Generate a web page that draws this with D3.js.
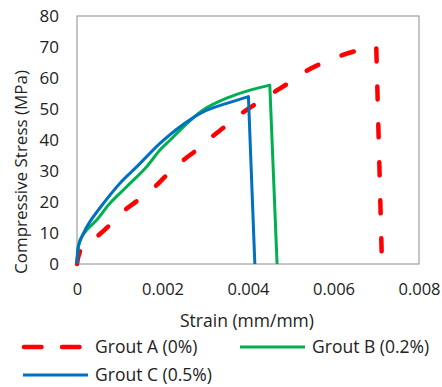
<!DOCTYPE html>
<html>
<head>
<meta charset="utf-8">
<script src="https://cdn.jsdelivr.net/npm/d3@7"></script>
<style>
  body { margin: 0; background: #fff; overflow: hidden; }
  svg { display: block; }
</style>
</head>
<body>
<svg id="chart"></svg>
<script>
// values: [strain, stress]
const groutA = [[0, 0], [0.00011, 5.2], [0.00046, 8.8], [0.00077, 12.6], [0.00112, 17.4], [0.00143, 20.6],
    [0.00182, 24.9], [0.0021, 28.7], [0.00249, 33.5], [0.0028, 36.8], [0.00315, 41], [0.00346, 44.3],
    [0.00385, 48.6], [0.0042, 51.8], [0.00463, 55.6], [0.00494, 58.3], [0.00533, 62], [0.00572, 64.7],
    [0.00615, 67.1], [0.00654, 68.8], [0.007, 70.2], [0.00713, 2]];
const groutB = [[0, 0], [0.00002, 4], [0.00007, 7.7], [0.00023, 11], [0.00046, 14.2], [0.00077, 19.6],
    [0.00116, 24.9], [0.00163, 31.4], [0.00194, 36.8], [0.00218, 40], [0.00241, 43.2], [0.00295, 49.7],
    [0.0035, 53.5], [0.00405, 56.1], [0.00451, 57.7], [0.00468, 0]];
const groutC = [[0, 0], [0.00003, 5.6], [0.00015, 9.9], [0.0003, 13.6], [0.00062, 19.6], [0.001, 26],
    [0.0014, 31.4], [0.00194, 38.9], [0.00241, 44.3], [0.00295, 49.1], [0.0035, 51.8], [0.00401, 54],
    [0.00416, 0]];
const seriesNames = ['Grout A (0%)', 'Grout B (0.2%)', 'Grout C (0.5%)'];
const xTicks = [0, 0.002, 0.004, 0.006, 0.008];
const yTicks = [0, 10, 20, 30, 40, 50, 60, 70, 80];

const font = '"Open Sans", "Noto Sans", sans-serif';
const width = 442, height = 387;
const margin = {top: 16, right: 23, bottom: 123, left: 77};
const innerWidth = width - margin.left - margin.right;
const innerHeight = height - margin.top - margin.bottom;

const svg = d3.select('#chart').attr('width', width).attr('height', height)
    .attr('font-family', font).attr('fill', '#222');
const g = svg.append('g').attr('transform', `translate(${margin.left},${margin.top})`);

const x = d3.scaleLinear().domain([0, 0.008]).range([0, innerWidth]);
const y = d3.scaleLinear().domain([0, 80]).range([innerHeight, 0]);

// plot border
g.append('rect')
    .attr('width', innerWidth).attr('height', innerHeight)
    .attr('fill', 'none').attr('stroke', '#8c8c8c').attr('stroke-width', 1);

const xAxis = g.append('g')
    .attr('transform', `translate(0,${innerHeight})`)
    .call(d3.axisBottom(x).tickValues(xTicks).tickSize(0).tickPadding(19)
        .tickFormat(d => d === 0 ? '0' : d3.format('.3f')(d)));
const yAxis = g.append('g')
    .call(d3.axisLeft(y).tickValues(yTicks).tickSize(0).tickPadding(18));
xAxis.attr('font-size', 16.5);
yAxis.attr('font-size', 17);
[xAxis, yAxis].forEach(a => {
    a.attr('font-family', font);
    a.select('.domain').remove();
    a.selectAll('text').attr('fill', '#222');
});

// smooth rising branch, straight drop after the peak
const rise = d3.line().x(d => x(d[0])).y(d => y(d[1])).curve(d3.curveCatmullRom.alpha(0.5));
const curvePath = data => {
    const up = data.slice(0, data.length - 1);
    const last = data[data.length - 1];
    return rise(up) + `L${x(last[0])},${y(last[1])}`;
};

const styles = [
    {data: groutA, color: '#ff0000', dash: '13,25', legendDash: '17.5,20.5', width: 4.5},
    {data: groutB, color: '#00b050', dash: null, width: 3},
    {data: groutC, color: '#0070c0', dash: null, width: 3}
];

styles.forEach(s => {
    g.append('path')
        .attr('d', curvePath(s.data))
        .attr('fill', 'none')
        .attr('stroke', s.color)
        .attr('stroke-width', s.width)
        .attr('stroke-linejoin', 'round')
        .attr('stroke-linecap', s.dash ? 'round' : 'butt')
        .attr('stroke-dasharray', s.dash);
});

// axis titles
svg.append('text')
    .attr('transform', 'translate(27,172) rotate(-90)')
    .attr('text-anchor', 'middle')
    .attr('font-size', 17)
    .text('Compressive Stress (MPa)');
svg.append('text')
    .attr('x', 247)
    .attr('y', 327)
    .attr('text-anchor', 'middle')
    .attr('font-size', 17.5)
    .text('Strain (mm/mm)');

// legend
const legendPos = [[24, 347, 95], [240, 347, 312], [23, 375, 95]];
styles.forEach((s, i) => {
    const [lx, ly, tx] = legendPos[i];
    svg.append('line')
        .attr('x1', lx).attr('x2', i === 0 ? lx + 58 : lx + 65)
        .attr('y1', ly).attr('y2', ly)
        .attr('stroke', s.color)
        .attr('stroke-width', s.width)
        .attr('stroke-linecap', s.dash ? 'round' : 'butt')
        .attr('stroke-dasharray', s.legendDash || null);
    svg.append('text')
        .attr('x', tx).attr('y', ly + 6)
        .attr('font-size', 17.5)
        .text(seriesNames[i]);
});
</script>
</body>
</html>
